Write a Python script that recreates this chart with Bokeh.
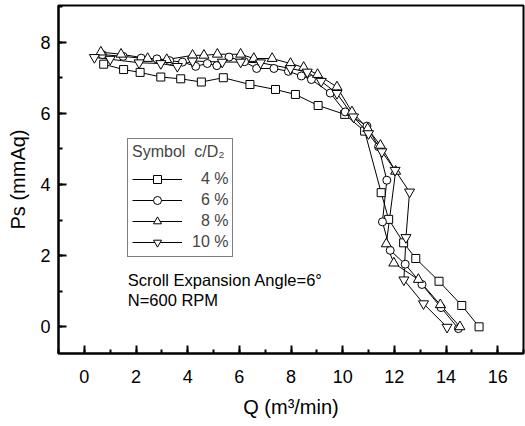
from bokeh.plotting import figure
from bokeh.models import Range1d, SingleIntervalTicker, Legend, LegendItem, Label
from bokeh.embed import file_html
from bokeh.resources import INLINE

# ---- data ----
q4 = [0.75, 1.52, 2.16, 2.96, 3.73, 4.53, 5.38, 6.41, 7.40, 8.17, 9.05, 10.08, 10.85,
      11.49, 11.78, 12.36, 12.83, 13.73, 14.61, 15.28]
ps4 = [7.38, 7.23, 7.15, 7.02, 6.97, 6.88, 7.00, 6.81, 6.67, 6.53, 6.22, 5.97, 5.50,
       3.77, 3.02, 2.36, 1.92, 1.28, 0.60, 0.00]

q6 = [0.70, 1.50, 2.20, 2.81, 3.30, 3.80, 4.31, 4.76, 5.13, 5.60, 6.20, 6.67, 7.34, 7.90,
      8.40, 8.79, 9.52, 10.10, 10.94, 11.39, 11.71, 11.54, 11.84, 12.42, 13.07, 13.81, 14.48]
ps6 = [7.65, 7.60, 7.55, 7.53, 7.48, 7.44, 7.32, 7.40, 7.34, 7.58, 7.45, 7.26, 7.26, 7.18,
       7.05, 6.95, 6.57, 6.04, 5.64, 5.06, 4.12, 2.95, 2.15, 1.76, 1.19, 0.54, -0.05]

q8 = [0.64, 1.42, 2.45, 3.19, 4.19, 4.63, 5.15, 6.05, 6.56, 7.27, 7.98, 8.49, 9.03, 9.78,
      10.36, 10.97, 11.46, 12.05, 11.69, 11.98, 12.93, 13.78, 14.54]
ps8 = [7.72, 7.66, 7.54, 7.51, 7.63, 7.63, 7.66, 7.66, 7.54, 7.54, 7.40, 7.29, 7.09, 6.74,
       6.04, 5.57, 5.10, 4.37, 2.33, 1.79, 1.33, 0.62, 0.00]

q10 = [0.39, 1.00, 2.12, 2.96, 3.60, 4.19, 5.34, 6.05, 6.82, 7.98, 8.63, 9.17, 9.78, 10.42,
       11.00, 11.52, 12.03, 12.59, 12.45, 12.37, 13.13, 14.04]
ps10 = [7.57, 7.52, 7.42, 7.40, 7.32, 7.47, 7.44, 7.44, 7.42, 7.26, 7.16, 6.90, 6.56, 5.90,
        5.43, 4.92, 4.40, 3.79, 2.51, 1.32, 0.65, -0.01]

series_labels = ["\u20074 %", "\u20076 %", "\u20078 %", "10 %"]
markers = ["square", "circle", "triangle", "inverted_triangle"]
marker_sizes = [8, 8, 10, 10]

FONT = "Liberation Sans"

p = figure(width=525, height=426, output_backend="svg", toolbar_location=None,
           x_range=Range1d(-1, 17), y_range=Range1d(-0.75, 9.03),
           min_border_left=58, min_border_right=2, min_border_top=5, min_border_bottom=73)
p.grid.visible = False
p.outline_line_color = "black"
p.outline_line_width = 2
p.background_fill_color = "white"
p.border_fill_color = "white"

for ax, interval in ((p.xaxis[0], 2), (p.yaxis[0], 2)):
    ax.ticker = SingleIntervalTicker(interval=interval, num_minor_ticks=2)
    ax.axis_line_width = 2
    ax.major_tick_line_width = 2
    ax.minor_tick_line_width = 2
    ax.major_tick_in = 8
    ax.major_tick_out = 0
    ax.minor_tick_in = 4
    ax.minor_tick_out = 0
    ax.major_label_text_font = FONT
    ax.major_label_text_font_size = "18px"
    ax.major_label_text_color = "black"
    ax.axis_label_text_font = FONT
    ax.axis_label_text_font_size = "20px"
    ax.axis_label_text_font_style = "normal"
    ax.axis_label_text_color = "black"

p.xaxis.axis_label = "Q (m\u00b3/min)"
p.yaxis.axis_label = "Ps (mmAq)"
p.xaxis.major_label_standoff = 16
p.yaxis.major_label_standoff = 8
p.xaxis.axis_label_standoff = 10
p.yaxis.axis_label_standoff = 8

data = [(q4, ps4), (q6, ps6), (q8, ps8), (q10, ps10)]
lines = []
for (qx, py) in data:
    lines.append(p.line(qx, py, line_color="black", line_width=1))
scats = []
for (qx, py), m, s in zip(data, markers, marker_sizes):
    scats.append(p.scatter(qx, py, marker=m, size=s, fill_color="white",
                           line_color="black", line_width=1))

items = [LegendItem(label=lab, renderers=[l, s]) for lab, l, s in zip(series_labels, lines, scats)]
legend = Legend(items=items, location=(69, 96), title="Symbol  c/D\u2082",
                title_text_font=FONT, title_text_font_size="16px", title_text_font_style="normal",
                title_standoff=8, label_text_font=FONT, label_text_font_size="16px",
                label_height=20, glyph_height=20, glyph_width=50, spacing=1, padding=4,
                label_standoff=10, border_line_color="black", border_line_width=1,
                background_fill_color="white", background_fill_alpha=1.0)
p.add_layout(legend, "center")

p.add_layout(Label(x=1.68, y=1.31, text="Scroll Expansion Angle=6\u00b0", text_font=FONT,
                   text_font_size="16.5px", text_baseline="alphabetic", text_color="black"))
p.add_layout(Label(x=1.68, y=0.75, text="N=600 RPM", text_font=FONT,
                   text_font_size="16.5px", text_baseline="alphabetic", text_color="black"))

open("out.html", "w").write(file_html(p, INLINE))
